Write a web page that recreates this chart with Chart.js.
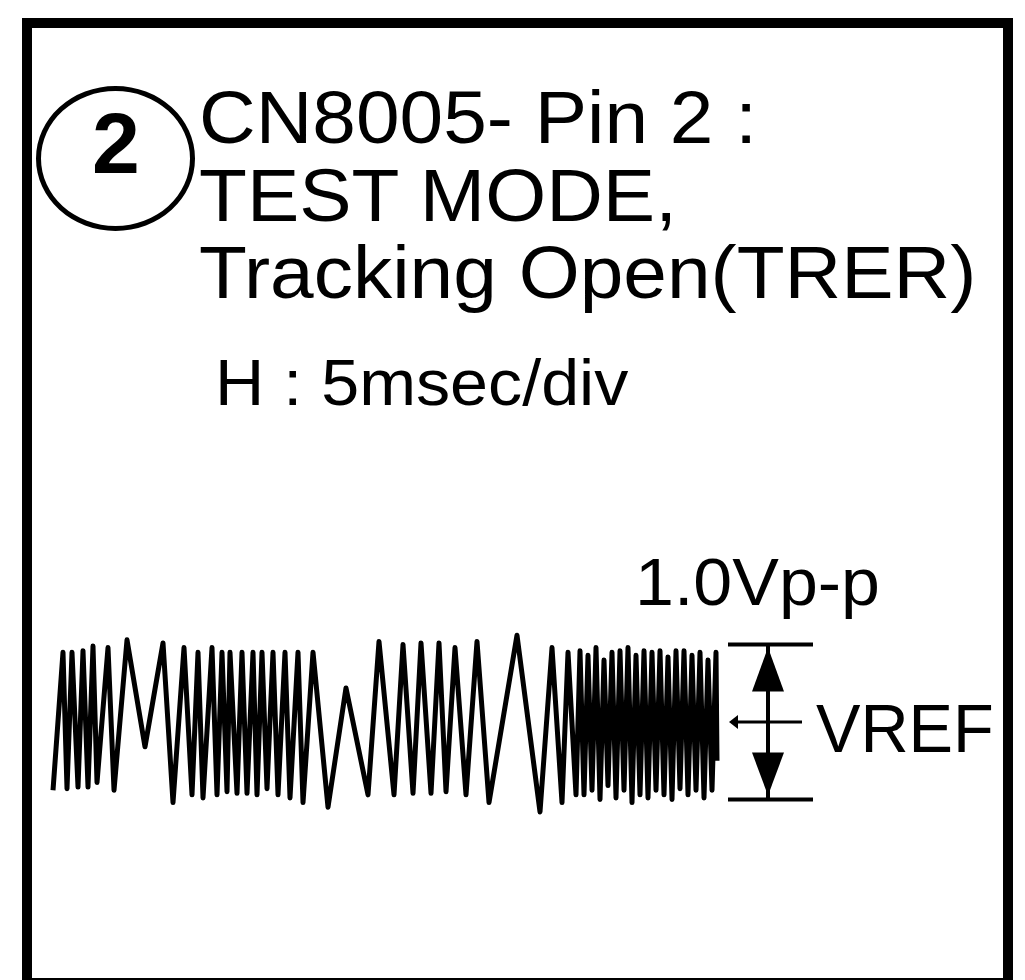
<!DOCTYPE html>
<html>
<head>
<meta charset="utf-8">
<script src="https://cdn.jsdelivr.net/npm/chart.js@4.4.1/dist/chart.umd.min.js"></script>
<style>
  html, body { margin: 0; padding: 0; background: #fff; }
  #wrap { position: relative; width: 1025px; height: 980px; overflow: hidden; background: #fff; }
  #c { position: absolute; left: 0; top: 0; }
  .t { position: absolute; font-family: "Liberation Sans", Arial, sans-serif; color: #000; white-space: nowrap; line-height: 1; transform-origin: 0 0; }
  #frame { position: absolute; left: 22px; top: 18px; width: 991px; height: 970px; border: 10px solid #000; box-sizing: border-box; }
  #circ { position: absolute; left: 36px; top: 86px; width: 159px; height: 145px; border: 5px solid #000; border-radius: 50%; box-sizing: border-box; }
</style>
</head>
<body>
<div id="wrap">
  <canvas id="c" width="1025" height="980"></canvas>
  <div id="frame"></div>
  <div id="circ"></div>
  <div class="t" style="left:92px; top:100px; font-size:86px; font-weight:bold;">2</div>
  <div class="t" style="left:199px; top:79px; font-size:74px; line-height:77.5px; transform: scaleX(1.06);">CN8005- Pin 2 :<br>TEST MODE,<br>Tracking Open(TRER)</div>
  <div class="t" style="left:215px; top:350px; font-size:65px; transform: scaleX(1.05);">H : 5msec/div</div>
  <div class="t" style="left:635px; top:549px; font-size:66px; transform: scaleX(1.06);">1.0Vp-p</div>
  <div class="t" style="left:816px; top:694px; font-size:68px; transform: scaleX(0.98);">VREF</div>
</div>
<script>
// Waveform: time in ms, voltage in V relative to VREF
const waveTime = [
  0.3, 1.3, 1.7, 2.2, 2.8, 3.3, 3.8, 4.3, 4.7, 5.8, 6.4, 7.7, 9.5, 11.3, 12.3,
  13.4, 14.2, 14.8, 15.3, 16.2, 16.7, 17.2, 17.7, 18.0, 18.7, 19.2, 19.7, 20.3, 20.7,
  21.2, 21.7, 22.3, 22.8, 23.5, 24.0, 24.8, 25.3, 26.3, 27.8, 29.6, 31.8, 32.9, 34.4,
  35.3, 36.3, 37.1, 38.1, 38.9, 39.6, 40.5, 41.6, 42.7, 43.9, 46.7, 49.0, 50.2, 51.2,
  51.8, 52.6,
  53.0, 53.4, 53.8, 54.2, 54.6, 55.0, 55.4, 55.8, 56.2, 56.6, 57.0, 57.4, 57.8, 58.2,
  58.6, 59.0, 59.4, 59.8, 60.2, 60.6, 61.0, 61.4, 61.8, 62.2, 62.6, 63.0, 63.4, 63.8,
  64.2, 64.6, 65.0, 65.4, 65.8, 66.2, 66.6, 66.7
];
const waveVolts = [
  -0.44, 0.45, -0.43, 0.45, -0.42, 0.46, -0.42, 0.49, -0.39, 0.48, -0.44, 0.53, -0.16, 0.51, -0.52,
  0.48, -0.47, 0.45, -0.49, 0.48, -0.47, 0.45, -0.45, 0.45, -0.46, 0.45, -0.46, 0.45, -0.47,
  0.45, -0.43, 0.45, -0.47, 0.45, -0.49, 0.45, -0.52, 0.45, -0.55, 0.22, -0.47, 0.52, -0.47,
  0.50, -0.46, 0.51, -0.46, 0.51, -0.45, 0.48, -0.47, 0.52, -0.52, 0.56, -0.58, 0.48, -0.52,
  0.45, -0.47,
  0.46, -0.47, 0.43, -0.44, 0.48, -0.50, 0.40, -0.41, 0.45, -0.49, 0.46, -0.44, 0.48, -0.52,
  0.43, -0.47, 0.46, -0.49, 0.45, -0.44, 0.46, -0.47, 0.42, -0.50, 0.46, -0.43, 0.46, -0.47,
  0.43, -0.44, 0.45, -0.49, 0.40, -0.44, 0.45, -0.25
];
const vrefLevel = 0.0;   // V
const vppSpan = 1.0;     // V peak-to-peak
const timeRange = [0, 68];      // ms
const voltRange = [-0.6, 0.6];  // V

const points = waveTime.map((t, i) => ({ x: t, y: waveVolts[i] }));

const refMarker = {
  id: 'refMarker',
  afterDatasetsDraw(chart) {
    const { ctx, chartArea, scales: { y } } = chart;
    const yTop = y.getPixelForValue(vrefLevel + vppSpan / 2);
    const yBot = y.getPixelForValue(vrefLevel - vppSpan / 2);
    const yMid = y.getPixelForValue(vrefLevel);
    const xa = chartArea.right - 2, xb = xa + 85, xc = xa + 40;
    ctx.save();
    ctx.strokeStyle = '#000'; ctx.fillStyle = '#000'; ctx.lineWidth = 4; ctx.lineCap = 'butt';
    ctx.beginPath();
    ctx.moveTo(xa, yTop); ctx.lineTo(xb, yTop);
    ctx.moveTo(xa, yBot); ctx.lineTo(xb, yBot);
    ctx.moveTo(xc, yTop); ctx.lineTo(xc, yBot);
    ctx.stroke();
    ctx.beginPath();
    ctx.moveTo(xc, yTop + 3); ctx.lineTo(xc - 16, yTop + 47); ctx.lineTo(xc + 16, yTop + 47); ctx.closePath(); ctx.fill();
    ctx.beginPath();
    ctx.moveTo(xc, yBot - 4); ctx.lineTo(xc - 16, yBot - 47); ctx.lineTo(xc + 16, yBot - 47); ctx.closePath(); ctx.fill();
    ctx.lineWidth = 3;
    ctx.beginPath(); ctx.moveTo(xa + 8, yMid); ctx.lineTo(xa + 74, yMid); ctx.stroke();
    ctx.beginPath(); ctx.moveTo(xa + 1, yMid); ctx.lineTo(xa + 10, yMid - 7); ctx.lineTo(xa + 10, yMid + 7); ctx.closePath(); ctx.fill();
    ctx.restore();
  }
};

new Chart(document.getElementById('c'), {
  type: 'line',
  data: {
    datasets: [{
      data: points,
      borderColor: '#000',
      borderWidth: 5,
      pointRadius: 0,
      tension: 0,
      fill: false,
      clip: false,
      borderJoinStyle: 'round',
      borderCapStyle: 'butt'
    }]
  },
  options: {
    responsive: false,
    animation: false,
    devicePixelRatio: 1,
    layout: { padding: { left: 50, right: 295, top: 629, bottom: 165 } },
    plugins: { legend: { display: false }, tooltip: { enabled: false }, title: { display: false } },
    scales: {
      x: { type: 'linear', min: timeRange[0], max: timeRange[1], display: false },
      y: { type: 'linear', min: voltRange[0], max: voltRange[1], display: false }
    }
  },
  plugins: [refMarker]
});
</script>
</body>
</html>
